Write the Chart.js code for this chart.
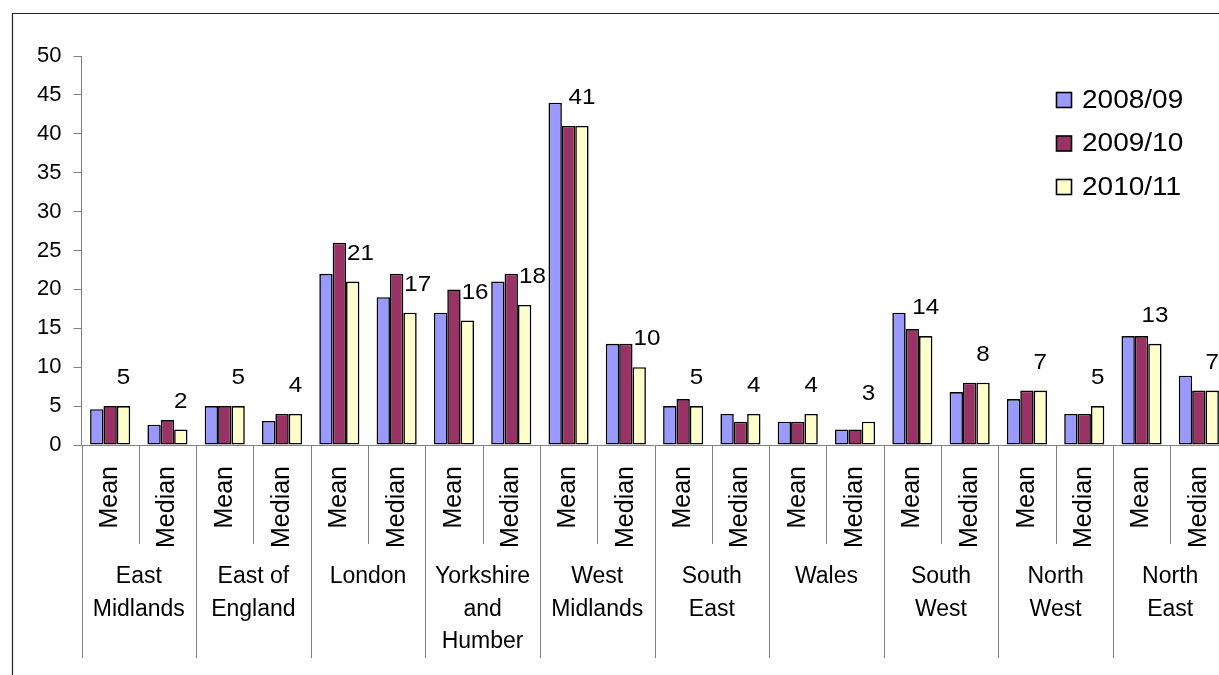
<!DOCTYPE html>
<html>
<head>
<meta charset="utf-8">
<script src="https://cdn.jsdelivr.net/npm/chart.js@4/dist/chart.umd.min.js"></script>
<style>
  html, body { margin: 0; padding: 0; background: #fff; overflow: hidden; }
  #wrap { position: relative; width: 1219px; height: 675px; overflow: hidden; }
  canvas { display: block; }
</style>
</head>
<body>
<div id="wrap"><canvas id="chart" width="1241" height="675"></canvas></div>
<script>
// Regions (multi-line labels) and the two measures shown for each
const regions = [
  ['East', 'Midlands'], ['East of', 'England'], ['London'], ['Yorkshire', 'and', 'Humber'],
  ['West', 'Midlands'], ['South', 'East'], ['Wales'], ['South', 'West'],
  ['North', 'West'], ['North', 'East']
];
const measures = ['Mean', 'Median'];
const seriesNames = ['2008/09', '2009/10', '2010/11'];

// One value per region/measure pair, in region order (Mean, Median)
const values0809 = [4.6, 2.6, 5, 3.1, 22, 19, 17, 21, 44, 13, 5, 4, 3, 2, 17, 6.8, 5.9, 4, 14, 8.9];
const values0910 = [5, 3.2, 5, 4, 26, 22, 20, 22, 41, 13, 5.9, 3, 3, 2, 14.9, 8, 7, 4, 14, 7];
const values1011 = [5, 2, 5, 4, 21, 17, 16, 18, 41, 10, 5, 4, 4, 3, 14, 8, 7, 5, 13, 7];

const yTicks = [0, 5, 10, 15, 20, 25, 30, 35, 40, 45, 50];

const seriesColors = ['#9999FF', '#993366', '#FFFFCC'];
const FONT = '"Liberation Sans", Arial, sans-serif';

// Category labels: every region gets a Mean and a Median slot
const categories = [];
regions.forEach(r => measures.forEach(m => categories.push(r.join(' ') + ' ' + m)));

function stretchedText(ctx, text, x, y, sx, align) {
  ctx.save();
  ctx.translate(x, y);
  ctx.scale(sx, 1);
  ctx.textAlign = align;
  ctx.fillText(text, 0, 0);
  ctx.restore();
}

const decorations = {
  id: 'decorations',
  afterDatasetsDraw(chart) {
    const ctx = chart.ctx;
    const area = chart.chartArea;
    const x = chart.scales.x;
    const n = categories.length;
    const catW = (area.right - area.left) / n;

    ctx.save();
    // outer frame (top and left edges)
    ctx.strokeStyle = '#202020';
    ctx.lineWidth = 1.2;
    ctx.beginPath();
    ctx.moveTo(12.5, 675);
    ctx.lineTo(12.5, 13.5);
    ctx.lineTo(1241, 13.5);
    ctx.stroke();

    // category axis line
    ctx.strokeStyle = '#808080';
    ctx.lineWidth = 1;
    ctx.beginPath();
    ctx.moveTo(area.left, Math.round(area.bottom) + 0.5);
    ctx.lineTo(area.right, Math.round(area.bottom) + 0.5);
    ctx.stroke();

    // separators: short between measures, long between regions
    for (let i = 0; i <= n; i++) {
      const sx = Math.round(area.left + i * catW) + 0.5;
      const end = (i % 2 === 0) ? 658 : 544;
      ctx.beginPath();
      ctx.moveTo(sx, area.bottom);
      ctx.lineTo(sx, end);
      ctx.stroke();
    }

    ctx.fillStyle = '#000';
    // rotated measure labels
    ctx.font = '25px ' + FONT;
    ctx.textBaseline = 'middle';
    for (let i = 0; i < n; i++) {
      const cx = x.getPixelForValue(i);
      ctx.save();
      ctx.translate(cx, 466);
      ctx.rotate(-Math.PI / 2);
      ctx.textAlign = 'right';
      ctx.fillText(measures[i % 2], 0, 0);
      ctx.restore();
    }

    // region labels centred under each Mean/Median pair
    ctx.font = '23px ' + FONT;
    regions.forEach((lines, r) => {
      const cx = (x.getPixelForValue(2 * r) + x.getPixelForValue(2 * r + 1)) / 2;
      lines.forEach((t, k) => stretchedText(ctx, t, cx, 577 + k * 32.5, 1, 'center'));
    });

    // value labels for the 2010/11 bars
    const latest = chart.getDatasetMeta(2).data;
    const prev = chart.getDatasetMeta(1).data;
    ctx.font = '22px ' + FONT;
    latest.forEach((bar, i) => {
      const text = String(values1011[i]);
      const cy = bar.y - 28;
      const left = bar.x - bar.width / 2;
      if (prev[i].y < bar.y - 20) {
        stretchedText(ctx, text, left + 1, cy, 1.1, 'left');
      } else {
        stretchedText(ctx, text, bar.x, cy, 1.1, 'center');
      }
    });

    // legend
    ctx.font = '25px ' + FONT;
    seriesNames.forEach((name, k) => {
      const cy = 100 + k * 43.5;
      ctx.fillStyle = seriesColors[k];
      ctx.fillRect(1056.5, cy - 7.5, 15, 15);
      ctx.strokeStyle = '#000';
      ctx.lineWidth = 1.6;
      ctx.strokeRect(1056.5, cy - 7.5, 15, 15);
      ctx.fillStyle = '#000';
      stretchedText(ctx, name, 1082, cy + 1, 1.12, 'left');
    });
    ctx.restore();
  }
};

new Chart(document.getElementById('chart'), {
  type: 'bar',
  data: {
    labels: categories,
    datasets: [values0809, values0910, values1011].map((vals, k) => ({
      label: seriesNames[k],
      data: vals,
      backgroundColor: seriesColors[k],
      borderColor: '#000',
      borderWidth: 1.6,
      borderSkipped: false,
      barPercentage: 1.0,
      categoryPercentage: 0.7
    }))
  },
  options: {
    responsive: false,
    animation: false,
    layout: { padding: { left: 11.5, right: 13.5, top: 56, bottom: 230 } },
    plugins: { legend: { display: false }, tooltip: { enabled: false } },
    scales: {
      x: { display: false },
      y: {
        min: 0,
        max: 50,
        afterFit(scale) { scale.width = 70; },
        afterBuildTicks(scale) { scale.ticks = yTicks.map(v => ({ value: v })); },
        ticks: { color: '#000', padding: 12, font: { family: FONT, size: 22 } },
        grid: { display: true, drawOnChartArea: false, drawTicks: true, tickLength: 8, color: '#808080' },
        border: { display: true, color: '#808080', width: 1 }
      }
    }
  },
  plugins: [decorations]
});
</script>
</body>
</html>
